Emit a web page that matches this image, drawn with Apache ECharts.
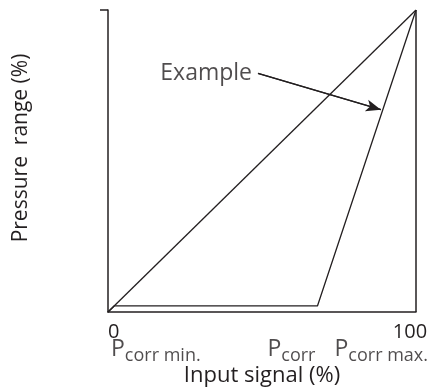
<!DOCTYPE html>
<html lang="en">

<head>
    <meta charset="UTF-8">
    <title>Pressure range vs input signal</title>
    <script src="https://cdn.jsdelivr.net/npm/echarts@6.0.0/dist/echarts.min.js"></script>
</head>

<body style="margin:0">
    <div id="main" style="width: 432px;height:392px;"></div>
    <script type="text/javascript">
    // axis range and tick labels
    const xTicks = [0, 100];
    // linear reference line
    const refX = [0, 100];
    const refY = [0, 100];
    // example characteristic
    const exampleX = [0, 2, 68, 100];
    const exampleY = [0, 2, 2, 100];
    // right boundary at 100 %
    const edgeX = [100, 100];
    const edgeY = [0, 100];
    // P_corr markers under the x axis
    const pcorrX = [0, 68, 100];
    const pcorrText = ['corr min.', 'corr', 'corr max.'];
    // annotation arrow (tail -> head)
    const arrowX = [48.7, 88.6];
    const arrowY = [79, 67];

    const ink = '#231f20';
    const font = '"Open Sans", "Noto Sans", sans-serif';
    const chart = echarts.init(document.getElementById('main'));

    const zip = (xs, ys) => xs.map((x, i) => [x, ys[i]]);
    const lineStyle = { color: ink, width: 1.3 };

    const pcorrAlign = ['left', 'right', 'right'];
    const pcorrOffset = [[3, 0], [-2, 0], [12, 0]];

    chart.setOption({
      animation: false,
      grid: { left: 108, right: 16, top: 10, bottom: 80 },
      xAxis: {
        type: 'value', min: xTicks[0], max: xTicks[1], interval: 100,
        axisLine: { lineStyle: { color: ink, width: 1.5 } },
        axisTick: { show: false },
        splitLine: { show: false },
        axisLabel: {
          color: ink, fontSize: 20, fontFamily: font, margin: 10,
          alignMinLabel: 'left', alignMaxLabel: 'center', padding: [0, 12, 0, 0]
        },
        name: 'Input signal (%)', nameLocation: 'middle', nameGap: 53,
        nameTextStyle: { color: ink, fontSize: 22, fontFamily: font }
      },
      yAxis: {
        type: 'value', min: 0, max: 100, interval: 100,
        axisLine: { show: true, lineStyle: { color: ink, width: 1.5 } },
        axisTick: { show: true, customValues: [100], length: 8, lineStyle: { color: ink, width: 1.5 } },
        splitLine: { show: false },
        axisLabel: { show: false },
        name: 'Pressure  range (%)', nameLocation: 'middle', nameGap: 76,
        nameTextStyle: { color: ink, fontSize: 21, fontFamily: font, padding: [0, 0, 0, 26] }
      },
      series: [
        { type: 'line', data: zip(refX, refY), symbol: 'none', lineStyle: lineStyle },
        { type: 'line', data: zip(exampleX, exampleY), symbol: 'none', lineStyle: lineStyle },
        { type: 'line', data: zip(edgeX, edgeY), symbol: 'none', lineStyle: { color: ink, width: 1.5 } },
        {
          type: 'line', data: zip(arrowX, arrowY), symbol: 'none', lineStyle: { color: ink, width: 1.2 },
          markLine: {
            silent: true, symbol: ['none', 'arrow'], symbolSize: [9, 15],
            lineStyle: { color: ink, width: 1.2, type: 'solid' }, label: { show: false },
            data: [[{ coord: [arrowX[0], arrowY[0]] }, { coord: [arrowX[1], arrowY[1]] }]]
          }
        },
        {
          type: 'scatter', symbolSize: 0, data: [[arrowX[0], arrowY[0]]],
          label: {
            show: true, position: 'left', distance: 6, formatter: 'Example',
            color: ink, fontSize: 23, fontFamily: font
          }
        },
        {
          type: 'scatter', symbolSize: 0, clip: false,
          data: pcorrX.map((x, i) => ({
            value: [x, 0],
            label: {
              align: pcorrAlign[i], offset: pcorrOffset[i],
              formatter: '{p|P}{s|' + pcorrText[i] + '}'
            }
          })),
          label: {
            show: true, position: 'bottom', distance: 26,
            rich: {
              p: { color: ink, fontSize: 23, fontFamily: font, verticalAlign: 'top' },
              s: { color: ink, fontSize: 18, fontFamily: font, padding: [9, 0, 0, 0], verticalAlign: 'bottom' }
            }
          }
        }
      ]
    });
    </script>
</body>

</html>
